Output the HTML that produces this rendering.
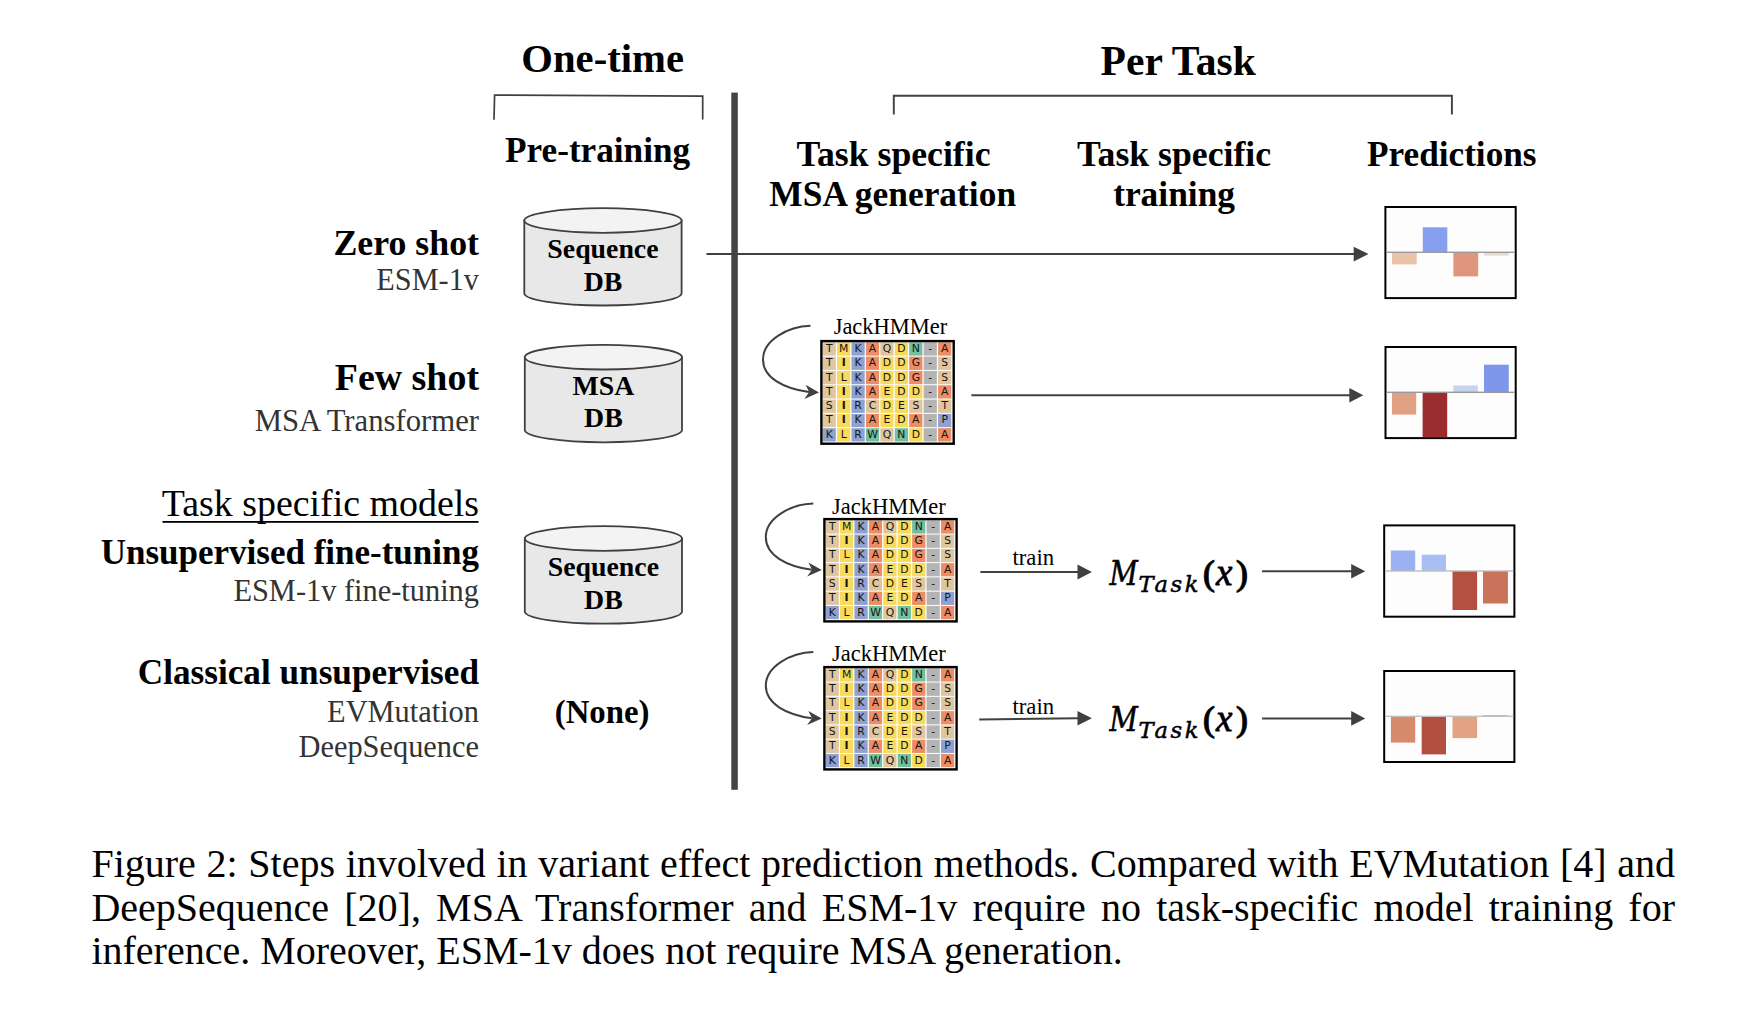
<!DOCTYPE html>
<html><head><meta charset="utf-8"><title>Figure 2</title>
<style>
html,body{margin:0;padding:0;background:#fff;}
body{width:1752px;height:1014px;position:relative;overflow:hidden;}
svg{position:absolute;left:0;top:0;}
.cl{position:absolute;left:91.4px;width:1583.6px;font-family:'Liberation Serif', serif;font-size:40px;line-height:44.280px;color:#000;white-space:nowrap;}
</style></head>
<body>
<svg width="1752" height="1014" viewBox="0 0 1752 1014">
<text x="602.7" y="72.4" font-family="'Liberation Serif', serif" font-size="40.7" font-weight="bold" text-anchor="middle" fill="#000" >One-time</text>
<text x="1178.2" y="75.2" font-family="'Liberation Serif', serif" font-size="41.6" font-weight="bold" text-anchor="middle" fill="#000" >Per Task</text>
<path d="M494,119.7 L494.6,95 L702.7,96.2 L702.7,119.5" fill="none" stroke="#404040" stroke-width="1.7"/>
<path d="M893.8,114.6 L893.8,95.7 L1451.9,95.7 L1451.9,114.6" fill="none" stroke="#404040" stroke-width="1.9"/>
<rect x="731.3" y="92.6" width="6.5" height="697.2" fill="#444"/>
<text x="597.6" y="162.3" font-family="'Liberation Serif', serif" font-size="35.2" font-weight="bold" text-anchor="middle" fill="#000" >Pre-training</text>
<text x="893.5" y="166" font-family="'Liberation Serif', serif" font-size="35.7" font-weight="bold" text-anchor="middle" fill="#000" >Task specific</text>
<text x="892.7" y="205.9" font-family="'Liberation Serif', serif" font-size="35.4" font-weight="bold" text-anchor="middle" fill="#000" >MSA generation</text>
<text x="1174.1" y="165.7" font-family="'Liberation Serif', serif" font-size="35.7" font-weight="bold" text-anchor="middle" fill="#000" >Task specific</text>
<text x="1174.1" y="205.6" font-family="'Liberation Serif', serif" font-size="35.4" font-weight="bold" text-anchor="middle" fill="#000" >training</text>
<text x="1451.8" y="165.7" font-family="'Liberation Serif', serif" font-size="35.2" font-weight="bold" text-anchor="middle" fill="#000" >Predictions</text>
<text x="479" y="254.9" font-family="'Liberation Serif', serif" font-size="35.8" font-weight="bold" text-anchor="end" fill="#000" >Zero shot</text>
<g transform="translate(479,290) scale(1,1.04)"><text x="0" y="0" font-family="'Liberation Serif', serif" font-size="30.3" font-weight="normal" text-anchor="end" fill="#333" >ESM-1v</text></g>
<text x="479" y="390.0" font-family="'Liberation Serif', serif" font-size="37.9" font-weight="bold" text-anchor="end" fill="#000" >Few shot</text>
<g transform="translate(479,430.5) scale(1,1.04)"><text x="0" y="0" font-family="'Liberation Serif', serif" font-size="30.7" font-weight="normal" text-anchor="end" fill="#333" >MSA Transformer</text></g>
<text x="479" y="516.1" font-family="'Liberation Serif', serif" font-size="37.9" font-weight="normal" text-anchor="end" fill="#000" >Task specific models</text>
<rect x="162.5" y="521" width="316" height="1.8" fill="#000"/>
<text x="479" y="563.7" font-family="'Liberation Serif', serif" font-size="35" font-weight="bold" text-anchor="end" fill="#000" >Unsupervised fine-tuning</text>
<g transform="translate(479,601.3) scale(1,1.04)"><text x="0" y="0" font-family="'Liberation Serif', serif" font-size="30.4" font-weight="normal" text-anchor="end" fill="#333" >ESM-1v fine-tuning</text></g>
<text x="479" y="683.5" font-family="'Liberation Serif', serif" font-size="35.2" font-weight="bold" text-anchor="end" fill="#000" >Classical unsupervised</text>
<g transform="translate(479,722) scale(1,1.04)"><text x="0" y="0" font-family="'Liberation Serif', serif" font-size="30.4" font-weight="normal" text-anchor="end" fill="#333" >EVMutation</text></g>
<g transform="translate(479,756.6) scale(1,1.04)"><text x="0" y="0" font-family="'Liberation Serif', serif" font-size="30.4" font-weight="normal" text-anchor="end" fill="#333" >DeepSequence</text></g>
<path d="M524.3,220.5 L524.3,293.2 A78.65000000000003,12.3 0 0 0 681.6,293.2 L681.6,220.5 Z" fill="#e8e8e8" stroke="#404040" stroke-width="1.8"/>
<ellipse cx="602.95" cy="220.5" rx="78.65000000000003" ry="12.3" fill="#f3f3f3" stroke="#404040" stroke-width="1.8"/>
<text x="602.95" y="258" font-family="'Liberation Serif', serif" font-size="27.8" font-weight="bold" text-anchor="middle" fill="#000" >Sequence</text>
<text x="602.95" y="290.6" font-family="'Liberation Serif', serif" font-size="27.8" font-weight="bold" text-anchor="middle" fill="#000" >DB</text>
<path d="M524.8,357.2 L524.8,430.0 A78.60000000000002,12.3 0 0 0 682.0,430.0 L682.0,357.2 Z" fill="#e8e8e8" stroke="#404040" stroke-width="1.8"/>
<ellipse cx="603.4" cy="357.2" rx="78.60000000000002" ry="12.3" fill="#f3f3f3" stroke="#404040" stroke-width="1.8"/>
<text x="603.4" y="394.9" font-family="'Liberation Serif', serif" font-size="27.8" font-weight="bold" text-anchor="middle" fill="#000" >MSA</text>
<text x="603.4" y="427" font-family="'Liberation Serif', serif" font-size="27.8" font-weight="bold" text-anchor="middle" fill="#000" >DB</text>
<path d="M524.8,538.5 L524.8,611.4000000000001 A78.60000000000002,12.3 0 0 0 682.0,611.4000000000001 L682.0,538.5 Z" fill="#e8e8e8" stroke="#404040" stroke-width="1.8"/>
<ellipse cx="603.4" cy="538.5" rx="78.60000000000002" ry="12.3" fill="#f3f3f3" stroke="#404040" stroke-width="1.8"/>
<text x="603.4" y="576" font-family="'Liberation Serif', serif" font-size="27.8" font-weight="bold" text-anchor="middle" fill="#000" >Sequence</text>
<text x="603.4" y="609.1" font-family="'Liberation Serif', serif" font-size="27.8" font-weight="bold" text-anchor="middle" fill="#000" >DB</text>
<text x="602.1" y="722.9" font-family="'Liberation Serif', serif" font-size="32.8" font-weight="bold" text-anchor="middle" fill="#000" >(None)</text>
<line x1="706.5" y1="254.1" x2="1354.7" y2="254.1" stroke="#404040" stroke-width="2"/>
<path d="M1353.7,246.79999999999998 L1368.5,254.1 L1353.7,261.4 Z" fill="#404040"/>
<line x1="971.4" y1="395.2" x2="1350.3" y2="395.2" stroke="#404040" stroke-width="2"/>
<path d="M1349.3,387.9 L1363.3,395.2 L1349.3,402.5 Z" fill="#404040"/>
<line x1="980.4" y1="572" x2="1078.5" y2="572" stroke="#404040" stroke-width="2"/>
<path d="M1077.5,564.5 L1091.9,572 L1077.5,579.5 Z" fill="#404040"/>
<line x1="1262.1" y1="571.2" x2="1352.2" y2="571.2" stroke="#404040" stroke-width="2"/>
<path d="M1351.2,563.9000000000001 L1365.2,571.2 L1351.2,578.5 Z" fill="#404040"/>
<line x1="979.2" y1="719.6" x2="1078" y2="718.2" stroke="#404040" stroke-width="2"/>
<path d="M1077.5,711.0 L1091.9,718.3 L1077.5,725.6 Z" fill="#404040"/>
<line x1="1262.1" y1="718.4" x2="1352.2" y2="718.4" stroke="#404040" stroke-width="2"/>
<path d="M1351.2,711.1 L1365.2,718.4 L1351.2,725.6999999999999 Z" fill="#404040"/>
<path d="M810.50,325.80 C788.00,326.50 763.00,340.00 763.00,359.40 C763.00,378.00 784.00,388.50 809.00,392.10" fill="none" stroke="#404040" stroke-width="2"/>
<path d="M819.00,392.40 L805.60,384.70 L809.20,392.10 L804.30,398.90 Z" fill="#404040"/>
<path d="M813.30,503.50 C790.80,504.20 765.80,517.70 765.80,537.10 C765.80,555.70 786.80,566.20 811.80,569.80" fill="none" stroke="#404040" stroke-width="2"/>
<path d="M821.80,570.10 L808.40,562.40 L812.00,569.80 L807.10,576.60 Z" fill="#404040"/>
<path d="M813.30,652.00 C790.80,652.70 765.80,666.20 765.80,685.60 C765.80,704.20 786.80,714.70 811.80,718.30" fill="none" stroke="#404040" stroke-width="2"/>
<path d="M821.80,718.60 L808.40,710.90 L812.00,718.30 L807.10,725.10 Z" fill="#404040"/>
<rect x="822.60" y="342.30" width="129.90" height="100.20" fill="#fff"/>
<rect x="822.60" y="342.30" width="13.23" height="13.31" fill="#dfc69f"/>
<text x="829.22" y="351.90" font-family="'DejaVu Sans', 'Liberation Sans', sans-serif" font-size="10.8" font-weight="normal" text-anchor="middle" fill="#151515">T</text>
<rect x="837.03" y="342.30" width="13.23" height="13.31" fill="#f8da5c"/>
<text x="843.65" y="351.90" font-family="'DejaVu Sans', 'Liberation Sans', sans-serif" font-size="10.8" font-weight="normal" text-anchor="middle" fill="#151515">M</text>
<rect x="851.47" y="342.30" width="13.23" height="13.31" fill="#8fa1d1"/>
<text x="858.08" y="351.90" font-family="'DejaVu Sans', 'Liberation Sans', sans-serif" font-size="10.8" font-weight="normal" text-anchor="middle" fill="#151515">K</text>
<rect x="865.90" y="342.30" width="13.23" height="13.31" fill="#ee8c63"/>
<text x="872.52" y="351.90" font-family="'DejaVu Sans', 'Liberation Sans', sans-serif" font-size="10.8" font-weight="normal" text-anchor="middle" fill="#151515">A</text>
<rect x="880.33" y="342.30" width="13.23" height="13.31" fill="#dfc69f"/>
<text x="886.95" y="351.90" font-family="'DejaVu Sans', 'Liberation Sans', sans-serif" font-size="10.8" font-weight="normal" text-anchor="middle" fill="#151515">Q</text>
<rect x="894.77" y="342.30" width="13.23" height="13.31" fill="#f8da5c"/>
<text x="901.38" y="351.90" font-family="'DejaVu Sans', 'Liberation Sans', sans-serif" font-size="10.8" font-weight="normal" text-anchor="middle" fill="#151515">D</text>
<rect x="909.20" y="342.30" width="13.23" height="13.31" fill="#72bf9e"/>
<text x="915.82" y="351.90" font-family="'DejaVu Sans', 'Liberation Sans', sans-serif" font-size="10.8" font-weight="normal" text-anchor="middle" fill="#151515">N</text>
<rect x="923.63" y="342.30" width="13.23" height="13.31" fill="#b4b4b4"/>
<text x="930.25" y="351.90" font-family="'DejaVu Sans', 'Liberation Sans', sans-serif" font-size="10.8" font-weight="normal" text-anchor="middle" fill="#151515">-</text>
<rect x="938.07" y="342.30" width="13.23" height="13.31" fill="#ee8c63"/>
<text x="944.68" y="351.90" font-family="'DejaVu Sans', 'Liberation Sans', sans-serif" font-size="10.8" font-weight="normal" text-anchor="middle" fill="#151515">A</text>
<rect x="822.60" y="356.61" width="13.23" height="13.31" fill="#dfc69f"/>
<text x="829.22" y="366.21" font-family="'DejaVu Sans', 'Liberation Sans', sans-serif" font-size="10.8" font-weight="normal" text-anchor="middle" fill="#151515">T</text>
<rect x="837.03" y="356.61" width="13.23" height="13.31" fill="#f8da5c"/>
<text x="843.65" y="366.21" font-family="'DejaVu Sans', 'Liberation Sans', sans-serif" font-size="10.8" font-weight="bold" text-anchor="middle" fill="#151515">I</text>
<rect x="851.47" y="356.61" width="13.23" height="13.31" fill="#8fa1d1"/>
<text x="858.08" y="366.21" font-family="'DejaVu Sans', 'Liberation Sans', sans-serif" font-size="10.8" font-weight="normal" text-anchor="middle" fill="#151515">K</text>
<rect x="865.90" y="356.61" width="13.23" height="13.31" fill="#ee8c63"/>
<text x="872.52" y="366.21" font-family="'DejaVu Sans', 'Liberation Sans', sans-serif" font-size="10.8" font-weight="normal" text-anchor="middle" fill="#151515">A</text>
<rect x="880.33" y="356.61" width="13.23" height="13.31" fill="#f8da5c"/>
<text x="886.95" y="366.21" font-family="'DejaVu Sans', 'Liberation Sans', sans-serif" font-size="10.8" font-weight="normal" text-anchor="middle" fill="#151515">D</text>
<rect x="894.77" y="356.61" width="13.23" height="13.31" fill="#f8da5c"/>
<text x="901.38" y="366.21" font-family="'DejaVu Sans', 'Liberation Sans', sans-serif" font-size="10.8" font-weight="normal" text-anchor="middle" fill="#151515">D</text>
<rect x="909.20" y="356.61" width="13.23" height="13.31" fill="#ee8c63"/>
<text x="915.82" y="366.21" font-family="'DejaVu Sans', 'Liberation Sans', sans-serif" font-size="10.8" font-weight="normal" text-anchor="middle" fill="#151515">G</text>
<rect x="923.63" y="356.61" width="13.23" height="13.31" fill="#b4b4b4"/>
<text x="930.25" y="366.21" font-family="'DejaVu Sans', 'Liberation Sans', sans-serif" font-size="10.8" font-weight="normal" text-anchor="middle" fill="#151515">-</text>
<rect x="938.07" y="356.61" width="13.23" height="13.31" fill="#dfc69f"/>
<text x="944.68" y="366.21" font-family="'DejaVu Sans', 'Liberation Sans', sans-serif" font-size="10.8" font-weight="normal" text-anchor="middle" fill="#151515">S</text>
<rect x="822.60" y="370.93" width="13.23" height="13.31" fill="#dfc69f"/>
<text x="829.22" y="380.53" font-family="'DejaVu Sans', 'Liberation Sans', sans-serif" font-size="10.8" font-weight="normal" text-anchor="middle" fill="#151515">T</text>
<rect x="837.03" y="370.93" width="13.23" height="13.31" fill="#f8da5c"/>
<text x="843.65" y="380.53" font-family="'DejaVu Sans', 'Liberation Sans', sans-serif" font-size="10.8" font-weight="normal" text-anchor="middle" fill="#151515">L</text>
<rect x="851.47" y="370.93" width="13.23" height="13.31" fill="#8fa1d1"/>
<text x="858.08" y="380.53" font-family="'DejaVu Sans', 'Liberation Sans', sans-serif" font-size="10.8" font-weight="normal" text-anchor="middle" fill="#151515">K</text>
<rect x="865.90" y="370.93" width="13.23" height="13.31" fill="#ee8c63"/>
<text x="872.52" y="380.53" font-family="'DejaVu Sans', 'Liberation Sans', sans-serif" font-size="10.8" font-weight="normal" text-anchor="middle" fill="#151515">A</text>
<rect x="880.33" y="370.93" width="13.23" height="13.31" fill="#f8da5c"/>
<text x="886.95" y="380.53" font-family="'DejaVu Sans', 'Liberation Sans', sans-serif" font-size="10.8" font-weight="normal" text-anchor="middle" fill="#151515">D</text>
<rect x="894.77" y="370.93" width="13.23" height="13.31" fill="#f8da5c"/>
<text x="901.38" y="380.53" font-family="'DejaVu Sans', 'Liberation Sans', sans-serif" font-size="10.8" font-weight="normal" text-anchor="middle" fill="#151515">D</text>
<rect x="909.20" y="370.93" width="13.23" height="13.31" fill="#ee8c63"/>
<text x="915.82" y="380.53" font-family="'DejaVu Sans', 'Liberation Sans', sans-serif" font-size="10.8" font-weight="normal" text-anchor="middle" fill="#151515">G</text>
<rect x="923.63" y="370.93" width="13.23" height="13.31" fill="#b4b4b4"/>
<text x="930.25" y="380.53" font-family="'DejaVu Sans', 'Liberation Sans', sans-serif" font-size="10.8" font-weight="normal" text-anchor="middle" fill="#151515">-</text>
<rect x="938.07" y="370.93" width="13.23" height="13.31" fill="#dfc69f"/>
<text x="944.68" y="380.53" font-family="'DejaVu Sans', 'Liberation Sans', sans-serif" font-size="10.8" font-weight="normal" text-anchor="middle" fill="#151515">S</text>
<rect x="822.60" y="385.24" width="13.23" height="13.31" fill="#dfc69f"/>
<text x="829.22" y="394.84" font-family="'DejaVu Sans', 'Liberation Sans', sans-serif" font-size="10.8" font-weight="normal" text-anchor="middle" fill="#151515">T</text>
<rect x="837.03" y="385.24" width="13.23" height="13.31" fill="#f8da5c"/>
<text x="843.65" y="394.84" font-family="'DejaVu Sans', 'Liberation Sans', sans-serif" font-size="10.8" font-weight="bold" text-anchor="middle" fill="#151515">I</text>
<rect x="851.47" y="385.24" width="13.23" height="13.31" fill="#8fa1d1"/>
<text x="858.08" y="394.84" font-family="'DejaVu Sans', 'Liberation Sans', sans-serif" font-size="10.8" font-weight="normal" text-anchor="middle" fill="#151515">K</text>
<rect x="865.90" y="385.24" width="13.23" height="13.31" fill="#ee8c63"/>
<text x="872.52" y="394.84" font-family="'DejaVu Sans', 'Liberation Sans', sans-serif" font-size="10.8" font-weight="normal" text-anchor="middle" fill="#151515">A</text>
<rect x="880.33" y="385.24" width="13.23" height="13.31" fill="#f8da5c"/>
<text x="886.95" y="394.84" font-family="'DejaVu Sans', 'Liberation Sans', sans-serif" font-size="10.8" font-weight="normal" text-anchor="middle" fill="#151515">E</text>
<rect x="894.77" y="385.24" width="13.23" height="13.31" fill="#f8da5c"/>
<text x="901.38" y="394.84" font-family="'DejaVu Sans', 'Liberation Sans', sans-serif" font-size="10.8" font-weight="normal" text-anchor="middle" fill="#151515">D</text>
<rect x="909.20" y="385.24" width="13.23" height="13.31" fill="#f8da5c"/>
<text x="915.82" y="394.84" font-family="'DejaVu Sans', 'Liberation Sans', sans-serif" font-size="10.8" font-weight="normal" text-anchor="middle" fill="#151515">D</text>
<rect x="923.63" y="385.24" width="13.23" height="13.31" fill="#b4b4b4"/>
<text x="930.25" y="394.84" font-family="'DejaVu Sans', 'Liberation Sans', sans-serif" font-size="10.8" font-weight="normal" text-anchor="middle" fill="#151515">-</text>
<rect x="938.07" y="385.24" width="13.23" height="13.31" fill="#ee8c63"/>
<text x="944.68" y="394.84" font-family="'DejaVu Sans', 'Liberation Sans', sans-serif" font-size="10.8" font-weight="normal" text-anchor="middle" fill="#151515">A</text>
<rect x="822.60" y="399.56" width="13.23" height="13.31" fill="#dfc69f"/>
<text x="829.22" y="409.16" font-family="'DejaVu Sans', 'Liberation Sans', sans-serif" font-size="10.8" font-weight="normal" text-anchor="middle" fill="#151515">S</text>
<rect x="837.03" y="399.56" width="13.23" height="13.31" fill="#f8da5c"/>
<text x="843.65" y="409.16" font-family="'DejaVu Sans', 'Liberation Sans', sans-serif" font-size="10.8" font-weight="bold" text-anchor="middle" fill="#151515">I</text>
<rect x="851.47" y="399.56" width="13.23" height="13.31" fill="#8fa1d1"/>
<text x="858.08" y="409.16" font-family="'DejaVu Sans', 'Liberation Sans', sans-serif" font-size="10.8" font-weight="normal" text-anchor="middle" fill="#151515">R</text>
<rect x="865.90" y="399.56" width="13.23" height="13.31" fill="#dfc69f"/>
<text x="872.52" y="409.16" font-family="'DejaVu Sans', 'Liberation Sans', sans-serif" font-size="10.8" font-weight="normal" text-anchor="middle" fill="#151515">C</text>
<rect x="880.33" y="399.56" width="13.23" height="13.31" fill="#f8da5c"/>
<text x="886.95" y="409.16" font-family="'DejaVu Sans', 'Liberation Sans', sans-serif" font-size="10.8" font-weight="normal" text-anchor="middle" fill="#151515">D</text>
<rect x="894.77" y="399.56" width="13.23" height="13.31" fill="#f8da5c"/>
<text x="901.38" y="409.16" font-family="'DejaVu Sans', 'Liberation Sans', sans-serif" font-size="10.8" font-weight="normal" text-anchor="middle" fill="#151515">E</text>
<rect x="909.20" y="399.56" width="13.23" height="13.31" fill="#dfc69f"/>
<text x="915.82" y="409.16" font-family="'DejaVu Sans', 'Liberation Sans', sans-serif" font-size="10.8" font-weight="normal" text-anchor="middle" fill="#151515">S</text>
<rect x="923.63" y="399.56" width="13.23" height="13.31" fill="#b4b4b4"/>
<text x="930.25" y="409.16" font-family="'DejaVu Sans', 'Liberation Sans', sans-serif" font-size="10.8" font-weight="normal" text-anchor="middle" fill="#151515">-</text>
<rect x="938.07" y="399.56" width="13.23" height="13.31" fill="#dfc69f"/>
<text x="944.68" y="409.16" font-family="'DejaVu Sans', 'Liberation Sans', sans-serif" font-size="10.8" font-weight="normal" text-anchor="middle" fill="#151515">T</text>
<rect x="822.60" y="413.87" width="13.23" height="13.31" fill="#dfc69f"/>
<text x="829.22" y="423.47" font-family="'DejaVu Sans', 'Liberation Sans', sans-serif" font-size="10.8" font-weight="normal" text-anchor="middle" fill="#151515">T</text>
<rect x="837.03" y="413.87" width="13.23" height="13.31" fill="#f8da5c"/>
<text x="843.65" y="423.47" font-family="'DejaVu Sans', 'Liberation Sans', sans-serif" font-size="10.8" font-weight="bold" text-anchor="middle" fill="#151515">I</text>
<rect x="851.47" y="413.87" width="13.23" height="13.31" fill="#8fa1d1"/>
<text x="858.08" y="423.47" font-family="'DejaVu Sans', 'Liberation Sans', sans-serif" font-size="10.8" font-weight="normal" text-anchor="middle" fill="#151515">K</text>
<rect x="865.90" y="413.87" width="13.23" height="13.31" fill="#ee8c63"/>
<text x="872.52" y="423.47" font-family="'DejaVu Sans', 'Liberation Sans', sans-serif" font-size="10.8" font-weight="normal" text-anchor="middle" fill="#151515">A</text>
<rect x="880.33" y="413.87" width="13.23" height="13.31" fill="#f8da5c"/>
<text x="886.95" y="423.47" font-family="'DejaVu Sans', 'Liberation Sans', sans-serif" font-size="10.8" font-weight="normal" text-anchor="middle" fill="#151515">E</text>
<rect x="894.77" y="413.87" width="13.23" height="13.31" fill="#f8da5c"/>
<text x="901.38" y="423.47" font-family="'DejaVu Sans', 'Liberation Sans', sans-serif" font-size="10.8" font-weight="normal" text-anchor="middle" fill="#151515">D</text>
<rect x="909.20" y="413.87" width="13.23" height="13.31" fill="#ee8c63"/>
<text x="915.82" y="423.47" font-family="'DejaVu Sans', 'Liberation Sans', sans-serif" font-size="10.8" font-weight="normal" text-anchor="middle" fill="#151515">A</text>
<rect x="923.63" y="413.87" width="13.23" height="13.31" fill="#b4b4b4"/>
<text x="930.25" y="423.47" font-family="'DejaVu Sans', 'Liberation Sans', sans-serif" font-size="10.8" font-weight="normal" text-anchor="middle" fill="#151515">-</text>
<rect x="938.07" y="413.87" width="13.23" height="13.31" fill="#8fa1d1"/>
<text x="944.68" y="423.47" font-family="'DejaVu Sans', 'Liberation Sans', sans-serif" font-size="10.8" font-weight="normal" text-anchor="middle" fill="#151515">P</text>
<rect x="822.60" y="428.19" width="13.23" height="13.31" fill="#8fa1d1"/>
<text x="829.22" y="437.79" font-family="'DejaVu Sans', 'Liberation Sans', sans-serif" font-size="10.8" font-weight="normal" text-anchor="middle" fill="#151515">K</text>
<rect x="837.03" y="428.19" width="13.23" height="13.31" fill="#f8da5c"/>
<text x="843.65" y="437.79" font-family="'DejaVu Sans', 'Liberation Sans', sans-serif" font-size="10.8" font-weight="normal" text-anchor="middle" fill="#151515">L</text>
<rect x="851.47" y="428.19" width="13.23" height="13.31" fill="#8fa1d1"/>
<text x="858.08" y="437.79" font-family="'DejaVu Sans', 'Liberation Sans', sans-serif" font-size="10.8" font-weight="normal" text-anchor="middle" fill="#151515">R</text>
<rect x="865.90" y="428.19" width="13.23" height="13.31" fill="#72bf9e"/>
<text x="872.52" y="437.79" font-family="'DejaVu Sans', 'Liberation Sans', sans-serif" font-size="10.8" font-weight="normal" text-anchor="middle" fill="#151515">W</text>
<rect x="880.33" y="428.19" width="13.23" height="13.31" fill="#dfc69f"/>
<text x="886.95" y="437.79" font-family="'DejaVu Sans', 'Liberation Sans', sans-serif" font-size="10.8" font-weight="normal" text-anchor="middle" fill="#151515">Q</text>
<rect x="894.77" y="428.19" width="13.23" height="13.31" fill="#72bf9e"/>
<text x="901.38" y="437.79" font-family="'DejaVu Sans', 'Liberation Sans', sans-serif" font-size="10.8" font-weight="normal" text-anchor="middle" fill="#151515">N</text>
<rect x="909.20" y="428.19" width="13.23" height="13.31" fill="#f8da5c"/>
<text x="915.82" y="437.79" font-family="'DejaVu Sans', 'Liberation Sans', sans-serif" font-size="10.8" font-weight="normal" text-anchor="middle" fill="#151515">D</text>
<rect x="923.63" y="428.19" width="13.23" height="13.31" fill="#b4b4b4"/>
<text x="930.25" y="437.79" font-family="'DejaVu Sans', 'Liberation Sans', sans-serif" font-size="10.8" font-weight="normal" text-anchor="middle" fill="#151515">-</text>
<rect x="938.07" y="428.19" width="13.23" height="13.31" fill="#ee8c63"/>
<text x="944.68" y="437.79" font-family="'DejaVu Sans', 'Liberation Sans', sans-serif" font-size="10.8" font-weight="normal" text-anchor="middle" fill="#151515">A</text>
<rect x="821.40" y="341.10" width="132.30" height="102.60" fill="none" stroke="#000" stroke-width="2.4"/>
<text x="890.5" y="333.8" font-family="'Liberation Serif', serif" font-size="22.5" font-weight="normal" text-anchor="middle" fill="#000" >JackHMMer</text>
<rect x="825.60" y="520.30" width="129.80" height="99.90" fill="#fff"/>
<rect x="825.60" y="520.30" width="13.22" height="13.27" fill="#dfc69f"/>
<text x="832.21" y="529.90" font-family="'DejaVu Sans', 'Liberation Sans', sans-serif" font-size="10.8" font-weight="normal" text-anchor="middle" fill="#151515">T</text>
<rect x="840.02" y="520.30" width="13.22" height="13.27" fill="#f8da5c"/>
<text x="846.63" y="529.90" font-family="'DejaVu Sans', 'Liberation Sans', sans-serif" font-size="10.8" font-weight="normal" text-anchor="middle" fill="#151515">M</text>
<rect x="854.44" y="520.30" width="13.22" height="13.27" fill="#8fa1d1"/>
<text x="861.06" y="529.90" font-family="'DejaVu Sans', 'Liberation Sans', sans-serif" font-size="10.8" font-weight="normal" text-anchor="middle" fill="#151515">K</text>
<rect x="868.87" y="520.30" width="13.22" height="13.27" fill="#ee8c63"/>
<text x="875.48" y="529.90" font-family="'DejaVu Sans', 'Liberation Sans', sans-serif" font-size="10.8" font-weight="normal" text-anchor="middle" fill="#151515">A</text>
<rect x="883.29" y="520.30" width="13.22" height="13.27" fill="#dfc69f"/>
<text x="889.90" y="529.90" font-family="'DejaVu Sans', 'Liberation Sans', sans-serif" font-size="10.8" font-weight="normal" text-anchor="middle" fill="#151515">Q</text>
<rect x="897.71" y="520.30" width="13.22" height="13.27" fill="#f8da5c"/>
<text x="904.32" y="529.90" font-family="'DejaVu Sans', 'Liberation Sans', sans-serif" font-size="10.8" font-weight="normal" text-anchor="middle" fill="#151515">D</text>
<rect x="912.13" y="520.30" width="13.22" height="13.27" fill="#72bf9e"/>
<text x="918.74" y="529.90" font-family="'DejaVu Sans', 'Liberation Sans', sans-serif" font-size="10.8" font-weight="normal" text-anchor="middle" fill="#151515">N</text>
<rect x="926.56" y="520.30" width="13.22" height="13.27" fill="#b4b4b4"/>
<text x="933.17" y="529.90" font-family="'DejaVu Sans', 'Liberation Sans', sans-serif" font-size="10.8" font-weight="normal" text-anchor="middle" fill="#151515">-</text>
<rect x="940.98" y="520.30" width="13.22" height="13.27" fill="#ee8c63"/>
<text x="947.59" y="529.90" font-family="'DejaVu Sans', 'Liberation Sans', sans-serif" font-size="10.8" font-weight="normal" text-anchor="middle" fill="#151515">A</text>
<rect x="825.60" y="534.57" width="13.22" height="13.27" fill="#dfc69f"/>
<text x="832.21" y="544.17" font-family="'DejaVu Sans', 'Liberation Sans', sans-serif" font-size="10.8" font-weight="normal" text-anchor="middle" fill="#151515">T</text>
<rect x="840.02" y="534.57" width="13.22" height="13.27" fill="#f8da5c"/>
<text x="846.63" y="544.17" font-family="'DejaVu Sans', 'Liberation Sans', sans-serif" font-size="10.8" font-weight="bold" text-anchor="middle" fill="#151515">I</text>
<rect x="854.44" y="534.57" width="13.22" height="13.27" fill="#8fa1d1"/>
<text x="861.06" y="544.17" font-family="'DejaVu Sans', 'Liberation Sans', sans-serif" font-size="10.8" font-weight="normal" text-anchor="middle" fill="#151515">K</text>
<rect x="868.87" y="534.57" width="13.22" height="13.27" fill="#ee8c63"/>
<text x="875.48" y="544.17" font-family="'DejaVu Sans', 'Liberation Sans', sans-serif" font-size="10.8" font-weight="normal" text-anchor="middle" fill="#151515">A</text>
<rect x="883.29" y="534.57" width="13.22" height="13.27" fill="#f8da5c"/>
<text x="889.90" y="544.17" font-family="'DejaVu Sans', 'Liberation Sans', sans-serif" font-size="10.8" font-weight="normal" text-anchor="middle" fill="#151515">D</text>
<rect x="897.71" y="534.57" width="13.22" height="13.27" fill="#f8da5c"/>
<text x="904.32" y="544.17" font-family="'DejaVu Sans', 'Liberation Sans', sans-serif" font-size="10.8" font-weight="normal" text-anchor="middle" fill="#151515">D</text>
<rect x="912.13" y="534.57" width="13.22" height="13.27" fill="#ee8c63"/>
<text x="918.74" y="544.17" font-family="'DejaVu Sans', 'Liberation Sans', sans-serif" font-size="10.8" font-weight="normal" text-anchor="middle" fill="#151515">G</text>
<rect x="926.56" y="534.57" width="13.22" height="13.27" fill="#b4b4b4"/>
<text x="933.17" y="544.17" font-family="'DejaVu Sans', 'Liberation Sans', sans-serif" font-size="10.8" font-weight="normal" text-anchor="middle" fill="#151515">-</text>
<rect x="940.98" y="534.57" width="13.22" height="13.27" fill="#dfc69f"/>
<text x="947.59" y="544.17" font-family="'DejaVu Sans', 'Liberation Sans', sans-serif" font-size="10.8" font-weight="normal" text-anchor="middle" fill="#151515">S</text>
<rect x="825.60" y="548.84" width="13.22" height="13.27" fill="#dfc69f"/>
<text x="832.21" y="558.44" font-family="'DejaVu Sans', 'Liberation Sans', sans-serif" font-size="10.8" font-weight="normal" text-anchor="middle" fill="#151515">T</text>
<rect x="840.02" y="548.84" width="13.22" height="13.27" fill="#f8da5c"/>
<text x="846.63" y="558.44" font-family="'DejaVu Sans', 'Liberation Sans', sans-serif" font-size="10.8" font-weight="normal" text-anchor="middle" fill="#151515">L</text>
<rect x="854.44" y="548.84" width="13.22" height="13.27" fill="#8fa1d1"/>
<text x="861.06" y="558.44" font-family="'DejaVu Sans', 'Liberation Sans', sans-serif" font-size="10.8" font-weight="normal" text-anchor="middle" fill="#151515">K</text>
<rect x="868.87" y="548.84" width="13.22" height="13.27" fill="#ee8c63"/>
<text x="875.48" y="558.44" font-family="'DejaVu Sans', 'Liberation Sans', sans-serif" font-size="10.8" font-weight="normal" text-anchor="middle" fill="#151515">A</text>
<rect x="883.29" y="548.84" width="13.22" height="13.27" fill="#f8da5c"/>
<text x="889.90" y="558.44" font-family="'DejaVu Sans', 'Liberation Sans', sans-serif" font-size="10.8" font-weight="normal" text-anchor="middle" fill="#151515">D</text>
<rect x="897.71" y="548.84" width="13.22" height="13.27" fill="#f8da5c"/>
<text x="904.32" y="558.44" font-family="'DejaVu Sans', 'Liberation Sans', sans-serif" font-size="10.8" font-weight="normal" text-anchor="middle" fill="#151515">D</text>
<rect x="912.13" y="548.84" width="13.22" height="13.27" fill="#ee8c63"/>
<text x="918.74" y="558.44" font-family="'DejaVu Sans', 'Liberation Sans', sans-serif" font-size="10.8" font-weight="normal" text-anchor="middle" fill="#151515">G</text>
<rect x="926.56" y="548.84" width="13.22" height="13.27" fill="#b4b4b4"/>
<text x="933.17" y="558.44" font-family="'DejaVu Sans', 'Liberation Sans', sans-serif" font-size="10.8" font-weight="normal" text-anchor="middle" fill="#151515">-</text>
<rect x="940.98" y="548.84" width="13.22" height="13.27" fill="#dfc69f"/>
<text x="947.59" y="558.44" font-family="'DejaVu Sans', 'Liberation Sans', sans-serif" font-size="10.8" font-weight="normal" text-anchor="middle" fill="#151515">S</text>
<rect x="825.60" y="563.11" width="13.22" height="13.27" fill="#dfc69f"/>
<text x="832.21" y="572.71" font-family="'DejaVu Sans', 'Liberation Sans', sans-serif" font-size="10.8" font-weight="normal" text-anchor="middle" fill="#151515">T</text>
<rect x="840.02" y="563.11" width="13.22" height="13.27" fill="#f8da5c"/>
<text x="846.63" y="572.71" font-family="'DejaVu Sans', 'Liberation Sans', sans-serif" font-size="10.8" font-weight="bold" text-anchor="middle" fill="#151515">I</text>
<rect x="854.44" y="563.11" width="13.22" height="13.27" fill="#8fa1d1"/>
<text x="861.06" y="572.71" font-family="'DejaVu Sans', 'Liberation Sans', sans-serif" font-size="10.8" font-weight="normal" text-anchor="middle" fill="#151515">K</text>
<rect x="868.87" y="563.11" width="13.22" height="13.27" fill="#ee8c63"/>
<text x="875.48" y="572.71" font-family="'DejaVu Sans', 'Liberation Sans', sans-serif" font-size="10.8" font-weight="normal" text-anchor="middle" fill="#151515">A</text>
<rect x="883.29" y="563.11" width="13.22" height="13.27" fill="#f8da5c"/>
<text x="889.90" y="572.71" font-family="'DejaVu Sans', 'Liberation Sans', sans-serif" font-size="10.8" font-weight="normal" text-anchor="middle" fill="#151515">E</text>
<rect x="897.71" y="563.11" width="13.22" height="13.27" fill="#f8da5c"/>
<text x="904.32" y="572.71" font-family="'DejaVu Sans', 'Liberation Sans', sans-serif" font-size="10.8" font-weight="normal" text-anchor="middle" fill="#151515">D</text>
<rect x="912.13" y="563.11" width="13.22" height="13.27" fill="#f8da5c"/>
<text x="918.74" y="572.71" font-family="'DejaVu Sans', 'Liberation Sans', sans-serif" font-size="10.8" font-weight="normal" text-anchor="middle" fill="#151515">D</text>
<rect x="926.56" y="563.11" width="13.22" height="13.27" fill="#b4b4b4"/>
<text x="933.17" y="572.71" font-family="'DejaVu Sans', 'Liberation Sans', sans-serif" font-size="10.8" font-weight="normal" text-anchor="middle" fill="#151515">-</text>
<rect x="940.98" y="563.11" width="13.22" height="13.27" fill="#ee8c63"/>
<text x="947.59" y="572.71" font-family="'DejaVu Sans', 'Liberation Sans', sans-serif" font-size="10.8" font-weight="normal" text-anchor="middle" fill="#151515">A</text>
<rect x="825.60" y="577.39" width="13.22" height="13.27" fill="#dfc69f"/>
<text x="832.21" y="586.99" font-family="'DejaVu Sans', 'Liberation Sans', sans-serif" font-size="10.8" font-weight="normal" text-anchor="middle" fill="#151515">S</text>
<rect x="840.02" y="577.39" width="13.22" height="13.27" fill="#f8da5c"/>
<text x="846.63" y="586.99" font-family="'DejaVu Sans', 'Liberation Sans', sans-serif" font-size="10.8" font-weight="bold" text-anchor="middle" fill="#151515">I</text>
<rect x="854.44" y="577.39" width="13.22" height="13.27" fill="#8fa1d1"/>
<text x="861.06" y="586.99" font-family="'DejaVu Sans', 'Liberation Sans', sans-serif" font-size="10.8" font-weight="normal" text-anchor="middle" fill="#151515">R</text>
<rect x="868.87" y="577.39" width="13.22" height="13.27" fill="#dfc69f"/>
<text x="875.48" y="586.99" font-family="'DejaVu Sans', 'Liberation Sans', sans-serif" font-size="10.8" font-weight="normal" text-anchor="middle" fill="#151515">C</text>
<rect x="883.29" y="577.39" width="13.22" height="13.27" fill="#f8da5c"/>
<text x="889.90" y="586.99" font-family="'DejaVu Sans', 'Liberation Sans', sans-serif" font-size="10.8" font-weight="normal" text-anchor="middle" fill="#151515">D</text>
<rect x="897.71" y="577.39" width="13.22" height="13.27" fill="#f8da5c"/>
<text x="904.32" y="586.99" font-family="'DejaVu Sans', 'Liberation Sans', sans-serif" font-size="10.8" font-weight="normal" text-anchor="middle" fill="#151515">E</text>
<rect x="912.13" y="577.39" width="13.22" height="13.27" fill="#dfc69f"/>
<text x="918.74" y="586.99" font-family="'DejaVu Sans', 'Liberation Sans', sans-serif" font-size="10.8" font-weight="normal" text-anchor="middle" fill="#151515">S</text>
<rect x="926.56" y="577.39" width="13.22" height="13.27" fill="#b4b4b4"/>
<text x="933.17" y="586.99" font-family="'DejaVu Sans', 'Liberation Sans', sans-serif" font-size="10.8" font-weight="normal" text-anchor="middle" fill="#151515">-</text>
<rect x="940.98" y="577.39" width="13.22" height="13.27" fill="#dfc69f"/>
<text x="947.59" y="586.99" font-family="'DejaVu Sans', 'Liberation Sans', sans-serif" font-size="10.8" font-weight="normal" text-anchor="middle" fill="#151515">T</text>
<rect x="825.60" y="591.66" width="13.22" height="13.27" fill="#dfc69f"/>
<text x="832.21" y="601.26" font-family="'DejaVu Sans', 'Liberation Sans', sans-serif" font-size="10.8" font-weight="normal" text-anchor="middle" fill="#151515">T</text>
<rect x="840.02" y="591.66" width="13.22" height="13.27" fill="#f8da5c"/>
<text x="846.63" y="601.26" font-family="'DejaVu Sans', 'Liberation Sans', sans-serif" font-size="10.8" font-weight="bold" text-anchor="middle" fill="#151515">I</text>
<rect x="854.44" y="591.66" width="13.22" height="13.27" fill="#8fa1d1"/>
<text x="861.06" y="601.26" font-family="'DejaVu Sans', 'Liberation Sans', sans-serif" font-size="10.8" font-weight="normal" text-anchor="middle" fill="#151515">K</text>
<rect x="868.87" y="591.66" width="13.22" height="13.27" fill="#ee8c63"/>
<text x="875.48" y="601.26" font-family="'DejaVu Sans', 'Liberation Sans', sans-serif" font-size="10.8" font-weight="normal" text-anchor="middle" fill="#151515">A</text>
<rect x="883.29" y="591.66" width="13.22" height="13.27" fill="#f8da5c"/>
<text x="889.90" y="601.26" font-family="'DejaVu Sans', 'Liberation Sans', sans-serif" font-size="10.8" font-weight="normal" text-anchor="middle" fill="#151515">E</text>
<rect x="897.71" y="591.66" width="13.22" height="13.27" fill="#f8da5c"/>
<text x="904.32" y="601.26" font-family="'DejaVu Sans', 'Liberation Sans', sans-serif" font-size="10.8" font-weight="normal" text-anchor="middle" fill="#151515">D</text>
<rect x="912.13" y="591.66" width="13.22" height="13.27" fill="#ee8c63"/>
<text x="918.74" y="601.26" font-family="'DejaVu Sans', 'Liberation Sans', sans-serif" font-size="10.8" font-weight="normal" text-anchor="middle" fill="#151515">A</text>
<rect x="926.56" y="591.66" width="13.22" height="13.27" fill="#b4b4b4"/>
<text x="933.17" y="601.26" font-family="'DejaVu Sans', 'Liberation Sans', sans-serif" font-size="10.8" font-weight="normal" text-anchor="middle" fill="#151515">-</text>
<rect x="940.98" y="591.66" width="13.22" height="13.27" fill="#8fa1d1"/>
<text x="947.59" y="601.26" font-family="'DejaVu Sans', 'Liberation Sans', sans-serif" font-size="10.8" font-weight="normal" text-anchor="middle" fill="#151515">P</text>
<rect x="825.60" y="605.93" width="13.22" height="13.27" fill="#8fa1d1"/>
<text x="832.21" y="615.53" font-family="'DejaVu Sans', 'Liberation Sans', sans-serif" font-size="10.8" font-weight="normal" text-anchor="middle" fill="#151515">K</text>
<rect x="840.02" y="605.93" width="13.22" height="13.27" fill="#f8da5c"/>
<text x="846.63" y="615.53" font-family="'DejaVu Sans', 'Liberation Sans', sans-serif" font-size="10.8" font-weight="normal" text-anchor="middle" fill="#151515">L</text>
<rect x="854.44" y="605.93" width="13.22" height="13.27" fill="#8fa1d1"/>
<text x="861.06" y="615.53" font-family="'DejaVu Sans', 'Liberation Sans', sans-serif" font-size="10.8" font-weight="normal" text-anchor="middle" fill="#151515">R</text>
<rect x="868.87" y="605.93" width="13.22" height="13.27" fill="#72bf9e"/>
<text x="875.48" y="615.53" font-family="'DejaVu Sans', 'Liberation Sans', sans-serif" font-size="10.8" font-weight="normal" text-anchor="middle" fill="#151515">W</text>
<rect x="883.29" y="605.93" width="13.22" height="13.27" fill="#dfc69f"/>
<text x="889.90" y="615.53" font-family="'DejaVu Sans', 'Liberation Sans', sans-serif" font-size="10.8" font-weight="normal" text-anchor="middle" fill="#151515">Q</text>
<rect x="897.71" y="605.93" width="13.22" height="13.27" fill="#72bf9e"/>
<text x="904.32" y="615.53" font-family="'DejaVu Sans', 'Liberation Sans', sans-serif" font-size="10.8" font-weight="normal" text-anchor="middle" fill="#151515">N</text>
<rect x="912.13" y="605.93" width="13.22" height="13.27" fill="#f8da5c"/>
<text x="918.74" y="615.53" font-family="'DejaVu Sans', 'Liberation Sans', sans-serif" font-size="10.8" font-weight="normal" text-anchor="middle" fill="#151515">D</text>
<rect x="926.56" y="605.93" width="13.22" height="13.27" fill="#b4b4b4"/>
<text x="933.17" y="615.53" font-family="'DejaVu Sans', 'Liberation Sans', sans-serif" font-size="10.8" font-weight="normal" text-anchor="middle" fill="#151515">-</text>
<rect x="940.98" y="605.93" width="13.22" height="13.27" fill="#ee8c63"/>
<text x="947.59" y="615.53" font-family="'DejaVu Sans', 'Liberation Sans', sans-serif" font-size="10.8" font-weight="normal" text-anchor="middle" fill="#151515">A</text>
<rect x="824.40" y="519.10" width="132.20" height="102.30" fill="none" stroke="#000" stroke-width="2.4"/>
<text x="888.8" y="513.8" font-family="'Liberation Serif', serif" font-size="22.5" font-weight="normal" text-anchor="middle" fill="#000" >JackHMMer</text>
<rect x="825.60" y="668.30" width="129.80" height="99.90" fill="#fff"/>
<rect x="825.60" y="668.30" width="13.22" height="13.27" fill="#dfc69f"/>
<text x="832.21" y="677.90" font-family="'DejaVu Sans', 'Liberation Sans', sans-serif" font-size="10.8" font-weight="normal" text-anchor="middle" fill="#151515">T</text>
<rect x="840.02" y="668.30" width="13.22" height="13.27" fill="#f8da5c"/>
<text x="846.63" y="677.90" font-family="'DejaVu Sans', 'Liberation Sans', sans-serif" font-size="10.8" font-weight="normal" text-anchor="middle" fill="#151515">M</text>
<rect x="854.44" y="668.30" width="13.22" height="13.27" fill="#8fa1d1"/>
<text x="861.06" y="677.90" font-family="'DejaVu Sans', 'Liberation Sans', sans-serif" font-size="10.8" font-weight="normal" text-anchor="middle" fill="#151515">K</text>
<rect x="868.87" y="668.30" width="13.22" height="13.27" fill="#ee8c63"/>
<text x="875.48" y="677.90" font-family="'DejaVu Sans', 'Liberation Sans', sans-serif" font-size="10.8" font-weight="normal" text-anchor="middle" fill="#151515">A</text>
<rect x="883.29" y="668.30" width="13.22" height="13.27" fill="#dfc69f"/>
<text x="889.90" y="677.90" font-family="'DejaVu Sans', 'Liberation Sans', sans-serif" font-size="10.8" font-weight="normal" text-anchor="middle" fill="#151515">Q</text>
<rect x="897.71" y="668.30" width="13.22" height="13.27" fill="#f8da5c"/>
<text x="904.32" y="677.90" font-family="'DejaVu Sans', 'Liberation Sans', sans-serif" font-size="10.8" font-weight="normal" text-anchor="middle" fill="#151515">D</text>
<rect x="912.13" y="668.30" width="13.22" height="13.27" fill="#72bf9e"/>
<text x="918.74" y="677.90" font-family="'DejaVu Sans', 'Liberation Sans', sans-serif" font-size="10.8" font-weight="normal" text-anchor="middle" fill="#151515">N</text>
<rect x="926.56" y="668.30" width="13.22" height="13.27" fill="#b4b4b4"/>
<text x="933.17" y="677.90" font-family="'DejaVu Sans', 'Liberation Sans', sans-serif" font-size="10.8" font-weight="normal" text-anchor="middle" fill="#151515">-</text>
<rect x="940.98" y="668.30" width="13.22" height="13.27" fill="#ee8c63"/>
<text x="947.59" y="677.90" font-family="'DejaVu Sans', 'Liberation Sans', sans-serif" font-size="10.8" font-weight="normal" text-anchor="middle" fill="#151515">A</text>
<rect x="825.60" y="682.57" width="13.22" height="13.27" fill="#dfc69f"/>
<text x="832.21" y="692.17" font-family="'DejaVu Sans', 'Liberation Sans', sans-serif" font-size="10.8" font-weight="normal" text-anchor="middle" fill="#151515">T</text>
<rect x="840.02" y="682.57" width="13.22" height="13.27" fill="#f8da5c"/>
<text x="846.63" y="692.17" font-family="'DejaVu Sans', 'Liberation Sans', sans-serif" font-size="10.8" font-weight="bold" text-anchor="middle" fill="#151515">I</text>
<rect x="854.44" y="682.57" width="13.22" height="13.27" fill="#8fa1d1"/>
<text x="861.06" y="692.17" font-family="'DejaVu Sans', 'Liberation Sans', sans-serif" font-size="10.8" font-weight="normal" text-anchor="middle" fill="#151515">K</text>
<rect x="868.87" y="682.57" width="13.22" height="13.27" fill="#ee8c63"/>
<text x="875.48" y="692.17" font-family="'DejaVu Sans', 'Liberation Sans', sans-serif" font-size="10.8" font-weight="normal" text-anchor="middle" fill="#151515">A</text>
<rect x="883.29" y="682.57" width="13.22" height="13.27" fill="#f8da5c"/>
<text x="889.90" y="692.17" font-family="'DejaVu Sans', 'Liberation Sans', sans-serif" font-size="10.8" font-weight="normal" text-anchor="middle" fill="#151515">D</text>
<rect x="897.71" y="682.57" width="13.22" height="13.27" fill="#f8da5c"/>
<text x="904.32" y="692.17" font-family="'DejaVu Sans', 'Liberation Sans', sans-serif" font-size="10.8" font-weight="normal" text-anchor="middle" fill="#151515">D</text>
<rect x="912.13" y="682.57" width="13.22" height="13.27" fill="#ee8c63"/>
<text x="918.74" y="692.17" font-family="'DejaVu Sans', 'Liberation Sans', sans-serif" font-size="10.8" font-weight="normal" text-anchor="middle" fill="#151515">G</text>
<rect x="926.56" y="682.57" width="13.22" height="13.27" fill="#b4b4b4"/>
<text x="933.17" y="692.17" font-family="'DejaVu Sans', 'Liberation Sans', sans-serif" font-size="10.8" font-weight="normal" text-anchor="middle" fill="#151515">-</text>
<rect x="940.98" y="682.57" width="13.22" height="13.27" fill="#dfc69f"/>
<text x="947.59" y="692.17" font-family="'DejaVu Sans', 'Liberation Sans', sans-serif" font-size="10.8" font-weight="normal" text-anchor="middle" fill="#151515">S</text>
<rect x="825.60" y="696.84" width="13.22" height="13.27" fill="#dfc69f"/>
<text x="832.21" y="706.44" font-family="'DejaVu Sans', 'Liberation Sans', sans-serif" font-size="10.8" font-weight="normal" text-anchor="middle" fill="#151515">T</text>
<rect x="840.02" y="696.84" width="13.22" height="13.27" fill="#f8da5c"/>
<text x="846.63" y="706.44" font-family="'DejaVu Sans', 'Liberation Sans', sans-serif" font-size="10.8" font-weight="normal" text-anchor="middle" fill="#151515">L</text>
<rect x="854.44" y="696.84" width="13.22" height="13.27" fill="#8fa1d1"/>
<text x="861.06" y="706.44" font-family="'DejaVu Sans', 'Liberation Sans', sans-serif" font-size="10.8" font-weight="normal" text-anchor="middle" fill="#151515">K</text>
<rect x="868.87" y="696.84" width="13.22" height="13.27" fill="#ee8c63"/>
<text x="875.48" y="706.44" font-family="'DejaVu Sans', 'Liberation Sans', sans-serif" font-size="10.8" font-weight="normal" text-anchor="middle" fill="#151515">A</text>
<rect x="883.29" y="696.84" width="13.22" height="13.27" fill="#f8da5c"/>
<text x="889.90" y="706.44" font-family="'DejaVu Sans', 'Liberation Sans', sans-serif" font-size="10.8" font-weight="normal" text-anchor="middle" fill="#151515">D</text>
<rect x="897.71" y="696.84" width="13.22" height="13.27" fill="#f8da5c"/>
<text x="904.32" y="706.44" font-family="'DejaVu Sans', 'Liberation Sans', sans-serif" font-size="10.8" font-weight="normal" text-anchor="middle" fill="#151515">D</text>
<rect x="912.13" y="696.84" width="13.22" height="13.27" fill="#ee8c63"/>
<text x="918.74" y="706.44" font-family="'DejaVu Sans', 'Liberation Sans', sans-serif" font-size="10.8" font-weight="normal" text-anchor="middle" fill="#151515">G</text>
<rect x="926.56" y="696.84" width="13.22" height="13.27" fill="#b4b4b4"/>
<text x="933.17" y="706.44" font-family="'DejaVu Sans', 'Liberation Sans', sans-serif" font-size="10.8" font-weight="normal" text-anchor="middle" fill="#151515">-</text>
<rect x="940.98" y="696.84" width="13.22" height="13.27" fill="#dfc69f"/>
<text x="947.59" y="706.44" font-family="'DejaVu Sans', 'Liberation Sans', sans-serif" font-size="10.8" font-weight="normal" text-anchor="middle" fill="#151515">S</text>
<rect x="825.60" y="711.11" width="13.22" height="13.27" fill="#dfc69f"/>
<text x="832.21" y="720.71" font-family="'DejaVu Sans', 'Liberation Sans', sans-serif" font-size="10.8" font-weight="normal" text-anchor="middle" fill="#151515">T</text>
<rect x="840.02" y="711.11" width="13.22" height="13.27" fill="#f8da5c"/>
<text x="846.63" y="720.71" font-family="'DejaVu Sans', 'Liberation Sans', sans-serif" font-size="10.8" font-weight="bold" text-anchor="middle" fill="#151515">I</text>
<rect x="854.44" y="711.11" width="13.22" height="13.27" fill="#8fa1d1"/>
<text x="861.06" y="720.71" font-family="'DejaVu Sans', 'Liberation Sans', sans-serif" font-size="10.8" font-weight="normal" text-anchor="middle" fill="#151515">K</text>
<rect x="868.87" y="711.11" width="13.22" height="13.27" fill="#ee8c63"/>
<text x="875.48" y="720.71" font-family="'DejaVu Sans', 'Liberation Sans', sans-serif" font-size="10.8" font-weight="normal" text-anchor="middle" fill="#151515">A</text>
<rect x="883.29" y="711.11" width="13.22" height="13.27" fill="#f8da5c"/>
<text x="889.90" y="720.71" font-family="'DejaVu Sans', 'Liberation Sans', sans-serif" font-size="10.8" font-weight="normal" text-anchor="middle" fill="#151515">E</text>
<rect x="897.71" y="711.11" width="13.22" height="13.27" fill="#f8da5c"/>
<text x="904.32" y="720.71" font-family="'DejaVu Sans', 'Liberation Sans', sans-serif" font-size="10.8" font-weight="normal" text-anchor="middle" fill="#151515">D</text>
<rect x="912.13" y="711.11" width="13.22" height="13.27" fill="#f8da5c"/>
<text x="918.74" y="720.71" font-family="'DejaVu Sans', 'Liberation Sans', sans-serif" font-size="10.8" font-weight="normal" text-anchor="middle" fill="#151515">D</text>
<rect x="926.56" y="711.11" width="13.22" height="13.27" fill="#b4b4b4"/>
<text x="933.17" y="720.71" font-family="'DejaVu Sans', 'Liberation Sans', sans-serif" font-size="10.8" font-weight="normal" text-anchor="middle" fill="#151515">-</text>
<rect x="940.98" y="711.11" width="13.22" height="13.27" fill="#ee8c63"/>
<text x="947.59" y="720.71" font-family="'DejaVu Sans', 'Liberation Sans', sans-serif" font-size="10.8" font-weight="normal" text-anchor="middle" fill="#151515">A</text>
<rect x="825.60" y="725.39" width="13.22" height="13.27" fill="#dfc69f"/>
<text x="832.21" y="734.99" font-family="'DejaVu Sans', 'Liberation Sans', sans-serif" font-size="10.8" font-weight="normal" text-anchor="middle" fill="#151515">S</text>
<rect x="840.02" y="725.39" width="13.22" height="13.27" fill="#f8da5c"/>
<text x="846.63" y="734.99" font-family="'DejaVu Sans', 'Liberation Sans', sans-serif" font-size="10.8" font-weight="bold" text-anchor="middle" fill="#151515">I</text>
<rect x="854.44" y="725.39" width="13.22" height="13.27" fill="#8fa1d1"/>
<text x="861.06" y="734.99" font-family="'DejaVu Sans', 'Liberation Sans', sans-serif" font-size="10.8" font-weight="normal" text-anchor="middle" fill="#151515">R</text>
<rect x="868.87" y="725.39" width="13.22" height="13.27" fill="#dfc69f"/>
<text x="875.48" y="734.99" font-family="'DejaVu Sans', 'Liberation Sans', sans-serif" font-size="10.8" font-weight="normal" text-anchor="middle" fill="#151515">C</text>
<rect x="883.29" y="725.39" width="13.22" height="13.27" fill="#f8da5c"/>
<text x="889.90" y="734.99" font-family="'DejaVu Sans', 'Liberation Sans', sans-serif" font-size="10.8" font-weight="normal" text-anchor="middle" fill="#151515">D</text>
<rect x="897.71" y="725.39" width="13.22" height="13.27" fill="#f8da5c"/>
<text x="904.32" y="734.99" font-family="'DejaVu Sans', 'Liberation Sans', sans-serif" font-size="10.8" font-weight="normal" text-anchor="middle" fill="#151515">E</text>
<rect x="912.13" y="725.39" width="13.22" height="13.27" fill="#dfc69f"/>
<text x="918.74" y="734.99" font-family="'DejaVu Sans', 'Liberation Sans', sans-serif" font-size="10.8" font-weight="normal" text-anchor="middle" fill="#151515">S</text>
<rect x="926.56" y="725.39" width="13.22" height="13.27" fill="#b4b4b4"/>
<text x="933.17" y="734.99" font-family="'DejaVu Sans', 'Liberation Sans', sans-serif" font-size="10.8" font-weight="normal" text-anchor="middle" fill="#151515">-</text>
<rect x="940.98" y="725.39" width="13.22" height="13.27" fill="#dfc69f"/>
<text x="947.59" y="734.99" font-family="'DejaVu Sans', 'Liberation Sans', sans-serif" font-size="10.8" font-weight="normal" text-anchor="middle" fill="#151515">T</text>
<rect x="825.60" y="739.66" width="13.22" height="13.27" fill="#dfc69f"/>
<text x="832.21" y="749.26" font-family="'DejaVu Sans', 'Liberation Sans', sans-serif" font-size="10.8" font-weight="normal" text-anchor="middle" fill="#151515">T</text>
<rect x="840.02" y="739.66" width="13.22" height="13.27" fill="#f8da5c"/>
<text x="846.63" y="749.26" font-family="'DejaVu Sans', 'Liberation Sans', sans-serif" font-size="10.8" font-weight="bold" text-anchor="middle" fill="#151515">I</text>
<rect x="854.44" y="739.66" width="13.22" height="13.27" fill="#8fa1d1"/>
<text x="861.06" y="749.26" font-family="'DejaVu Sans', 'Liberation Sans', sans-serif" font-size="10.8" font-weight="normal" text-anchor="middle" fill="#151515">K</text>
<rect x="868.87" y="739.66" width="13.22" height="13.27" fill="#ee8c63"/>
<text x="875.48" y="749.26" font-family="'DejaVu Sans', 'Liberation Sans', sans-serif" font-size="10.8" font-weight="normal" text-anchor="middle" fill="#151515">A</text>
<rect x="883.29" y="739.66" width="13.22" height="13.27" fill="#f8da5c"/>
<text x="889.90" y="749.26" font-family="'DejaVu Sans', 'Liberation Sans', sans-serif" font-size="10.8" font-weight="normal" text-anchor="middle" fill="#151515">E</text>
<rect x="897.71" y="739.66" width="13.22" height="13.27" fill="#f8da5c"/>
<text x="904.32" y="749.26" font-family="'DejaVu Sans', 'Liberation Sans', sans-serif" font-size="10.8" font-weight="normal" text-anchor="middle" fill="#151515">D</text>
<rect x="912.13" y="739.66" width="13.22" height="13.27" fill="#ee8c63"/>
<text x="918.74" y="749.26" font-family="'DejaVu Sans', 'Liberation Sans', sans-serif" font-size="10.8" font-weight="normal" text-anchor="middle" fill="#151515">A</text>
<rect x="926.56" y="739.66" width="13.22" height="13.27" fill="#b4b4b4"/>
<text x="933.17" y="749.26" font-family="'DejaVu Sans', 'Liberation Sans', sans-serif" font-size="10.8" font-weight="normal" text-anchor="middle" fill="#151515">-</text>
<rect x="940.98" y="739.66" width="13.22" height="13.27" fill="#8fa1d1"/>
<text x="947.59" y="749.26" font-family="'DejaVu Sans', 'Liberation Sans', sans-serif" font-size="10.8" font-weight="normal" text-anchor="middle" fill="#151515">P</text>
<rect x="825.60" y="753.93" width="13.22" height="13.27" fill="#8fa1d1"/>
<text x="832.21" y="763.53" font-family="'DejaVu Sans', 'Liberation Sans', sans-serif" font-size="10.8" font-weight="normal" text-anchor="middle" fill="#151515">K</text>
<rect x="840.02" y="753.93" width="13.22" height="13.27" fill="#f8da5c"/>
<text x="846.63" y="763.53" font-family="'DejaVu Sans', 'Liberation Sans', sans-serif" font-size="10.8" font-weight="normal" text-anchor="middle" fill="#151515">L</text>
<rect x="854.44" y="753.93" width="13.22" height="13.27" fill="#8fa1d1"/>
<text x="861.06" y="763.53" font-family="'DejaVu Sans', 'Liberation Sans', sans-serif" font-size="10.8" font-weight="normal" text-anchor="middle" fill="#151515">R</text>
<rect x="868.87" y="753.93" width="13.22" height="13.27" fill="#72bf9e"/>
<text x="875.48" y="763.53" font-family="'DejaVu Sans', 'Liberation Sans', sans-serif" font-size="10.8" font-weight="normal" text-anchor="middle" fill="#151515">W</text>
<rect x="883.29" y="753.93" width="13.22" height="13.27" fill="#dfc69f"/>
<text x="889.90" y="763.53" font-family="'DejaVu Sans', 'Liberation Sans', sans-serif" font-size="10.8" font-weight="normal" text-anchor="middle" fill="#151515">Q</text>
<rect x="897.71" y="753.93" width="13.22" height="13.27" fill="#72bf9e"/>
<text x="904.32" y="763.53" font-family="'DejaVu Sans', 'Liberation Sans', sans-serif" font-size="10.8" font-weight="normal" text-anchor="middle" fill="#151515">N</text>
<rect x="912.13" y="753.93" width="13.22" height="13.27" fill="#f8da5c"/>
<text x="918.74" y="763.53" font-family="'DejaVu Sans', 'Liberation Sans', sans-serif" font-size="10.8" font-weight="normal" text-anchor="middle" fill="#151515">D</text>
<rect x="926.56" y="753.93" width="13.22" height="13.27" fill="#b4b4b4"/>
<text x="933.17" y="763.53" font-family="'DejaVu Sans', 'Liberation Sans', sans-serif" font-size="10.8" font-weight="normal" text-anchor="middle" fill="#151515">-</text>
<rect x="940.98" y="753.93" width="13.22" height="13.27" fill="#ee8c63"/>
<text x="947.59" y="763.53" font-family="'DejaVu Sans', 'Liberation Sans', sans-serif" font-size="10.8" font-weight="normal" text-anchor="middle" fill="#151515">A</text>
<rect x="824.40" y="667.10" width="132.20" height="102.30" fill="none" stroke="#000" stroke-width="2.4"/>
<text x="888.8" y="661" font-family="'Liberation Serif', serif" font-size="22.5" font-weight="normal" text-anchor="middle" fill="#000" >JackHMMer</text>
<g transform="translate(1109.6,584.9) scale(0.84,1)"><text x="0" y="0" font-family="'DejaVu Serif', serif" font-size="33" font-style="italic" fill="#000" stroke="#000" stroke-width="0.6">M</text></g>
<text x="1138.6" y="592.0" font-family="'DejaVu Serif', serif" font-size="22.6" font-style="italic" letter-spacing="2.6" fill="#000" stroke="#000" stroke-width="0.5">Task</text>
<g transform="translate(1201.0,586.7) scale(1.15,1)"><text x="0" y="0" font-family="'DejaVu Serif', serif" font-size="35.5" fill="#000" stroke="#000" stroke-width="0.6">(</text></g>
<text x="1216.0" y="585.0" font-family="Liberation Serif, serif" font-size="37" font-style="italic" fill="#000" stroke="#000" stroke-width="0.8">x</text>
<g transform="translate(1234.0,586.7) scale(1.15,1)"><text x="0" y="0" font-family="'DejaVu Serif', serif" font-size="35.5" fill="#000" stroke="#000" stroke-width="0.6">)</text></g>
<g transform="translate(1109.6,730.8) scale(0.84,1)"><text x="0" y="0" font-family="'DejaVu Serif', serif" font-size="33" font-style="italic" fill="#000" stroke="#000" stroke-width="0.6">M</text></g>
<text x="1138.6" y="737.9" font-family="'DejaVu Serif', serif" font-size="22.6" font-style="italic" letter-spacing="2.6" fill="#000" stroke="#000" stroke-width="0.5">Task</text>
<g transform="translate(1201.0,732.6) scale(1.15,1)"><text x="0" y="0" font-family="'DejaVu Serif', serif" font-size="35.5" fill="#000" stroke="#000" stroke-width="0.6">(</text></g>
<text x="1216.0" y="730.9" font-family="Liberation Serif, serif" font-size="37" font-style="italic" fill="#000" stroke="#000" stroke-width="0.8">x</text>
<g transform="translate(1234.0,732.6) scale(1.15,1)"><text x="0" y="0" font-family="'DejaVu Serif', serif" font-size="35.5" fill="#000" stroke="#000" stroke-width="0.6">)</text></g>
<text x="1033.3" y="564.8" font-family="'Liberation Serif', serif" font-size="22.7" font-weight="normal" text-anchor="middle" fill="#000" >train</text>
<text x="1033.3" y="713.6" font-family="'Liberation Serif', serif" font-size="22.7" font-weight="normal" text-anchor="middle" fill="#000" >train</text>
<rect x="1385.40" y="207.00" width="130.30" height="91.10" fill="#fdfdfd" stroke="#000" stroke-width="2"/>
<rect x="1392" y="252.3" width="24.70" height="12.10" fill="#e9c2aa"/>
<rect x="1422.8" y="227.3" width="24.50" height="25.00" fill="#86a0ef"/>
<rect x="1453.4" y="252.3" width="24.80" height="24.10" fill="#de977c"/>
<rect x="1483.8" y="252.3" width="25.00" height="3.40" fill="#e8dbd0"/>
<rect x="1386.4" y="251.60" width="128.30" height="1.4" fill="#9a9a9a"/>
<rect x="1385.50" y="347.00" width="130.20" height="91.10" fill="#fdfdfd" stroke="#000" stroke-width="2"/>
<rect x="1392" y="392.3" width="24.20" height="22.30" fill="#e0a084"/>
<rect x="1422.6" y="392.3" width="24.60" height="44.90" fill="#9b2d2f"/>
<rect x="1453.4" y="385.5" width="24.40" height="6.80" fill="#c6d3ee"/>
<rect x="1484" y="364.7" width="24.80" height="27.60" fill="#7f97ea"/>
<rect x="1386.5" y="391.60" width="128.20" height="1.4" fill="#9a9a9a"/>
<rect x="1384.20" y="525.40" width="130.20" height="91.30" fill="#fdfdfd" stroke="#000" stroke-width="2"/>
<rect x="1390.9" y="550.5" width="24.30" height="20.50" fill="#9bb2f2"/>
<rect x="1421.7" y="554.7" width="24.30" height="16.30" fill="#a9bff3"/>
<rect x="1452.5" y="571" width="24.60" height="39.00" fill="#b35040"/>
<rect x="1483" y="571" width="24.90" height="32.50" fill="#cb735a"/>
<rect x="1385.2" y="570.30" width="128.20" height="1.4" fill="#bdbdbd"/>
<rect x="1384.20" y="671.00" width="130.20" height="91.00" fill="#fdfdfd" stroke="#000" stroke-width="2"/>
<rect x="1390.9" y="716.3" width="24.30" height="26.30" fill="#d78a6c"/>
<rect x="1421.7" y="716.3" width="24.30" height="38.10" fill="#b15040"/>
<rect x="1452.5" y="716.3" width="24.60" height="21.80" fill="#e2a283"/>
<rect x="1483" y="715.0" width="24.90" height="1.30" fill="#b0b8cc"/>
<rect x="1385.2" y="715.60" width="128.20" height="1.4" fill="#c2c2c2"/>
</svg>
<div class="cl" style="top:842.26px;text-align:justify;text-align-last:justify">Figure 2: Steps involved in variant effect prediction methods. Compared with EVMutation [4] and</div>
<div class="cl" style="top:886.36px;text-align:justify;text-align-last:justify">DeepSequence [20], MSA Transformer and ESM-1v require no task-specific model training for</div>
<div class="cl" style="top:928.86px;text-align:left;text-align-last:left">inference. Moreover, ESM-1v does not require MSA generation.</div>

</body></html>
